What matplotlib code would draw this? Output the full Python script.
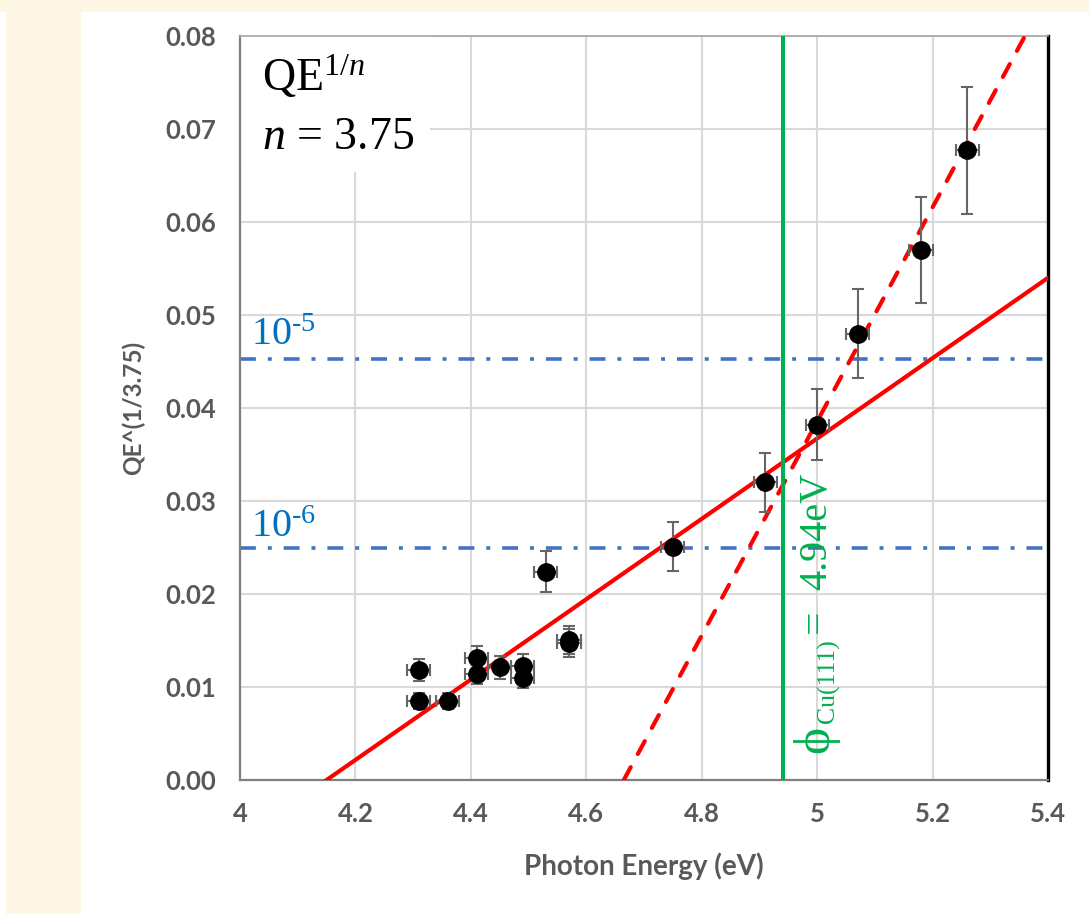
import numpy as np
import matplotlib
matplotlib.use('Agg')
import matplotlib.pyplot as plt
from matplotlib.patches import Rectangle

plt.rcParams['mathtext.fontset'] = 'custom'
plt.rcParams['mathtext.rm'] = 'Liberation Serif'
plt.rcParams['mathtext.it'] = 'Liberation Serif:italic'
plt.rcParams['mathtext.bf'] = 'Liberation Serif:bold'

# photon energy (eV) and QE^(1/n), n = 3.75
energy = [4.31, 4.31, 4.36, 4.41, 4.41, 4.45, 4.49, 4.49, 4.53, 4.57, 4.57,
          4.75, 4.91, 5.00, 5.07, 5.18, 5.26]
qe_root = [0.0118, 0.0085, 0.0085, 0.0131, 0.0114, 0.0121, 0.0123, 0.0110, 0.0224,
           0.0151, 0.0147, 0.0251, 0.0320, 0.0382, 0.0480, 0.0570, 0.0677]
qe_err = [0.0012, 0.0009, 0.0009, 0.0013, 0.0011, 0.0012, 0.0012, 0.0011, 0.0022,
          0.0015, 0.0015, 0.0026, 0.0032, 0.0038, 0.0048, 0.0057, 0.0068]
energy_err = [0.02, 0.02, 0.02, 0.02, 0.02, 0.02, 0.02, 0.02, 0.02,
              0.02, 0.02, 0.02, 0.02, 0.02, 0.02, 0.02, 0.02]

# linear fits: (slope, x-intercept)
fit_low = (0.0432, 4.150)
fit_high = (0.1151, 4.665)

# QE^(1/3.75) levels for QE = 1e-5 and 1e-6
levels = [0.0453, 0.0249]
level_labels = [r'10$^{\text{-5}}$', r'10$^{\text{-6}}$']
level_text_y = [0.0468, 0.0261]

work_function = 4.94

xticks = [4, 4.2, 4.4, 4.6, 4.8, 5, 5.2, 5.4]
xtick_labels = ['4', '4.2', '4.4', '4.6', '4.8', '5', '5.2', '5.4']
yticks = [0, 0.01, 0.02, 0.03, 0.04, 0.05, 0.06, 0.07, 0.08]

gray = '#595959'
green = '#00B050'
serif = ['Liberation Serif', 'DejaVu Serif']

fig = plt.figure(figsize=(10.89, 9.14), dpi=100)
fig.patch.set_facecolor('#FFF7E6')
fig.add_artist(Rectangle((81 / 1089, 0), 1, 902 / 914, transform=fig.transFigure,
                         facecolor='white', edgecolor='none', zorder=0))
fig.add_artist(Rectangle((0, 0), 6 / 1089, 902 / 914, transform=fig.transFigure,
                         facecolor='white', edgecolor='none', zorder=0))

ax = fig.add_axes([240 / 1089, 1 - 780 / 914, 808 / 1089, 744 / 914])
ax.set_facecolor('white')
ax.set_xlim(4, 5.4)
ax.set_ylim(0, 0.08)
ax.set_axisbelow(True)
ax.grid(True, color='#D9D9D9', linewidth=1.5)

# white box behind the QE^(1/n) caption
ax.add_patch(Rectangle((0, 0.817), 0.235, 0.183, transform=ax.transAxes,
                       facecolor='white', edgecolor='none', zorder=1))

for lv in levels:
    ax.axhline(lv, color='#4472C4', linewidth=2.6, linestyle=(0, (4.4, 3.3, 1.1, 3.3)), zorder=2)
for lbl, ty in zip(level_labels, level_text_y):
    ax.text(4.019, ty, lbl, color='#0070C0', fontsize=29, family=serif,
            va='baseline', ha='left', zorder=3)

xs = np.linspace(fit_low[1], 5.4, 50)
ax.plot(xs, fit_low[0] * (xs - fit_low[1]), color='#FF0000', linewidth=3.0, zorder=3)
xs = np.linspace(fit_high[1], 5.4, 50)
ax.plot(xs, fit_high[0] * (xs - fit_high[1]), color='#FF0000', linewidth=3.0,
        linestyle=(0, (3.5, 3.6)), dash_capstyle='round', zorder=3)

ax.axvline(work_function, color=green, linewidth=2.9, zorder=3)

ax.errorbar(energy, qe_root, yerr=qe_err, xerr=energy_err, fmt='o', color='black',
            markersize=12.5, ecolor='#666666', elinewidth=1.5, capsize=4.3,
            capthick=1.5, zorder=5)

ax.text(4.038, 0.0741, 'QE$^{1/n}$', fontsize=33, family=serif,
        va='baseline', ha='left', zorder=4)
ax.text(4.038, 0.0678, '$n$ = 3.75', fontsize=33, family=serif,
        va='baseline', ha='left', zorder=4)

# vertical work-function label in pieces, so the subscript can be smaller:
# (text, font size, baseline x, start y)
pieces = [('ϕ', 37, 5.019, 0.0029),
          ('Cu(111)', 18.5, 5.031, 0.0061),
          ('=', 30, 5.0154, 0.0158),
          ('4.94eV', 29, 5.0154, 0.0204)]
for txt, size, xb, y0 in pieces:
    ax.text(xb, y0, txt, rotation=90, rotation_mode='anchor', ha='left',
            va='baseline', color=green, fontsize=size, family=serif, zorder=4)

ax.set_xticks(xticks)
ax.set_xticklabels(xtick_labels)
ax.set_yticks(yticks)
ax.set_yticklabels(['%.2f' % v for v in yticks])
ax.tick_params(length=0, labelsize=18.5, labelcolor=gray)
ax.tick_params(axis='x', pad=16)
ax.tick_params(axis='y', pad=17)
for t in ax.get_xticklabels() + ax.get_yticklabels():
    t.set_family('Lato')
    t.set_fontweight('bold')

ax.set_xlabel('Photon Energy (eV)', fontsize=20, fontweight='bold', color=gray, family='Lato')
ax.set_ylabel('QE^(1/3.75)', fontsize=17.5, fontweight='bold', color=gray, family='Lato')
ax.xaxis.set_label_coords(0.5, -0.097)
ax.yaxis.set_label_coords(-0.117, 0.5)

for side in ['left', 'bottom']:
    ax.spines[side].set_color('#7F7F7F')
    ax.spines[side].set_linewidth(1.6)
ax.spines['top'].set_color('#A6A6A6')
ax.spines['top'].set_linewidth(1.2)
ax.spines['right'].set_color('black')
ax.spines['right'].set_linewidth(2.4)

plt.savefig('out.png', dpi=100, facecolor=fig.get_facecolor())
